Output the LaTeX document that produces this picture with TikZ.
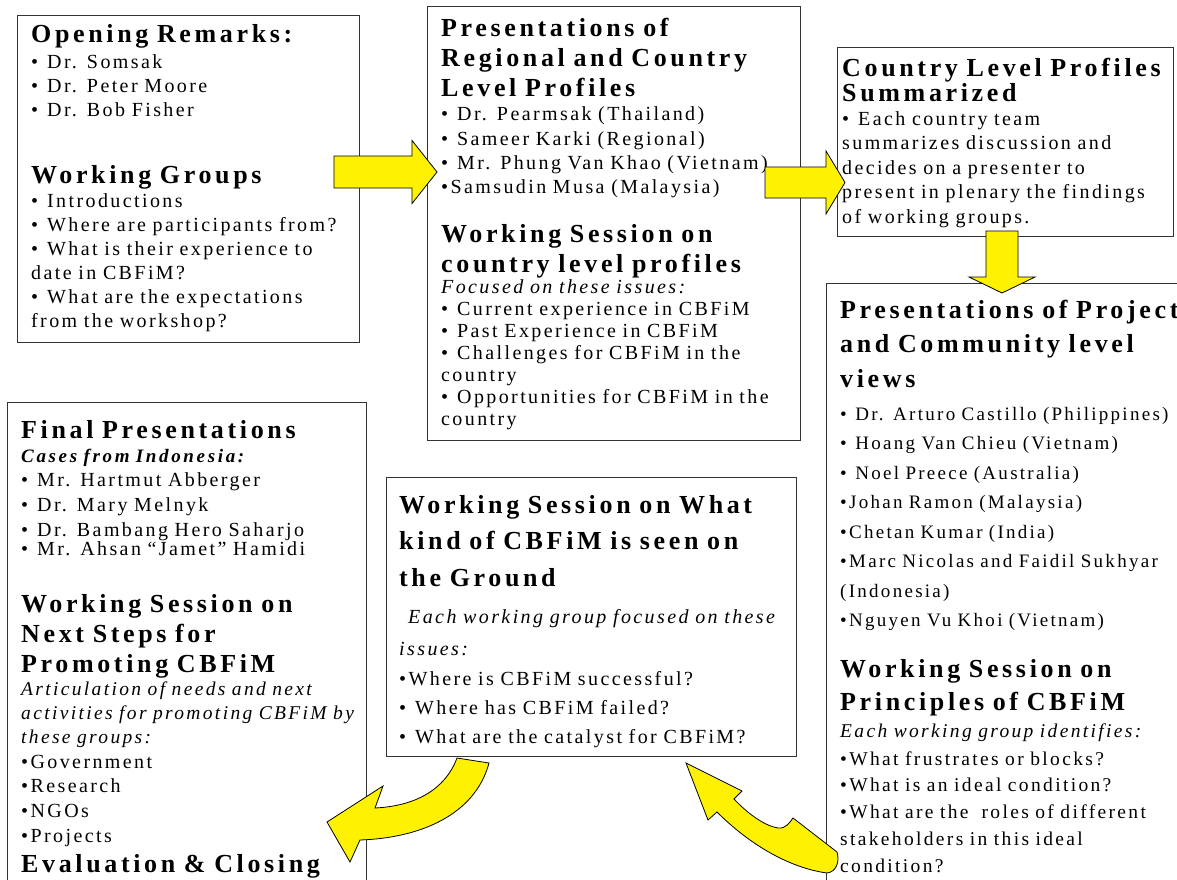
\documentclass[tikz,border=0pt]{standalone}
\usepackage{fontspec}
\setmainfont{Liberation Serif}[LetterSpace=12]
\newfontfamily\headfam{Liberation Serif}[LetterSpace=14]
\usepackage{tikz}
\newcommand{\fs}[2]{\fontsize{#1}{#2}\selectfont}
\newcommand{\bl}{•\hspace{0.45em}}

\begin{document}
\begin{tikzpicture}[x=1pt,y=-1pt,
  panel/.style={draw=black!80,line width=0.9pt,fill=white,anchor=north west,inner sep=0pt},
  txt/.style={anchor=base west,inner sep=0pt,align=left,text width=420pt},
  hd/.style 2 args={txt,font=\headfam\bfseries\fs{#1}{#2}},
  bd/.style 2 args={txt,font=\fs{#1}{#2}},
  itl/.style 2 args={txt,font=\itshape\fs{#1}{#2}},
  blockarr/.style={fill=yellow,draw=black,line width=0.8pt,line join=miter}
]
\useasboundingbox (0,0) rectangle (1177,880);
\fill[white] (0,0) rectangle (1177,880);
\clip (0,0) rectangle (1177,880);

% panels
\node[panel,minimum width=342pt,minimum height=327pt] (open) at (17,15) {};
\node[panel,minimum width=373pt,minimum height=434pt] (regional) at (427,6) {};
\node[panel,minimum width=336pt,minimum height=189pt] (summary) at (837,47) {};
\node[panel,minimum width=380pt,minimum height=640pt] (project) at (826,283) {};
\node[panel,minimum width=359pt,minimum height=500pt] (final) at (7,402) {};
\node[panel,minimum width=410pt,minimum height=279pt] (ground) at (386,477) {};

% opening remarks
\node[hd={26}{30}] (openT) at (31,43) {Opening Remarks:};
\node[bd={20}{24}] (openL) at (31,69) {\bl Dr. Somsak\\\bl Dr. Peter Moore\\\bl Dr. Bob Fisher};
\node[hd={26}{30}] (groupT) at (31,183) {Working Groups};
\node[bd={20}{24}] (groupL) at (31,207) {\bl Introductions\\\bl Where are participants from?\\\bl What is their experience to\\date in CBFiM?\\\bl What are the expectations\\from the workshop?};

% regional and country profiles
\node[hd={26}{30}] (regT) at (441,37) {Presentations of\\Regional and Country\\Level Profiles};
\node[bd={20}{24.3}] (regL) at (441,121) {\bl Dr. Pearmsak (Thailand)\\\bl Sameer Karki (Regional)\\\bl Mr. Phung Van Khao (Vietnam)\\•Samsudin Musa (Malaysia)};
\node[hd={26}{30}] (wsT) at (441,242) {Working Session on\\country level profiles};
\node[itl={20}{24}] (wsI) at (441,293) {Focused on these issues:};
\node[bd={20}{22}] (wsL) at (441,315) {\bl Current experience in CBFiM\\\bl Past Experience in CBFiM\\\bl Challenges for CBFiM in the\\country\\\bl Opportunities for CBFiM in the\\country};

% summary
\node[hd={26}{23}] (sumT) at (842,77) {Country Level Profiles\\Summarized};
\node[bd={20}{24.5}] (sumL) at (842,125) {\bl Each country team\\summarizes discussion and\\decides on a presenter to\\present in plenary the findings\\of working groups.};

% project and community views
\node[hd={26}{34.5}] (projT) at (840,318) {Presentations of Project\\and Community level\\views};
\node[bd={19}{29.5}] (projL) at (840,420) {\bl Dr. Arturo Castillo (Philippines)\\\bl Hoang Van Chieu (Vietnam)\\\bl Noel Preece (Australia)\\•Johan Ramon (Malaysia)\\•Chetan Kumar (India)\\•Marc Nicolas and Faidil Sukhyar\\(Indonesia)\\•Nguyen Vu Khoi (Vietnam)};
\node[hd={26}{33}] (prinT) at (840,677) {Working Session on\\Principles of CBFiM};
\node[itl={19.5}{24}] (prinI) at (840,737) {Each working group identifies:};
\node[bd={19.5}{26.75}] (prinL) at (840,765) {•What frustrates or blocks?\\•What is an ideal condition?\\•What are the\ \ roles of different\\stakeholders in this ideal\\condition?};

% final presentations
\node[hd={26}{30}] (finT) at (21,438) {Final Presentations};
\node[txt,font=\headfam\bfseries\itshape\fs{19}{24}] (finI) at (21,462) {Cases from Indonesia:};
\node[bd={20}{25}] (finL) at (21,486) {\bl Mr. Hartmut Abberger\\\bl Dr. Mary Melnyk\\\bl Dr. Bambang Hero Saharjo\\[-6pt]\bl Mr. Ahsan “Jamet” Hamidi};
\node[hd={26}{30}] (nextT) at (21,612) {Working Session on\\Next Steps for\\Promoting CBFiM};
\node[itl={19.5}{24}] (nextI) at (21,695) {Articulation of needs and next\\activities for promoting CBFiM by\\these groups:};
\node[bd={20}{24.7}] (nextL) at (21,768) {•Government\\•Research\\•NGOs\\•Projects};
\node[hd={26}{30}] (closeT) at (21,872) {Evaluation \& Closing};

% what is seen on the ground
\node[hd={26}{36.5}] (grT) at (399,513) {Working Session on What\\kind of CBFiM is seen on\\the Ground};
\node[itl={20}{32}] (grI) at (399,623) {\hspace*{9pt}Each working group focused on these\\issues:};
\node[bd={20}{29}] (grL) at (399,685) {•Where is CBFiM successful?\\\bl Where has CBFiM failed?\\\bl What are the catalyst for CBFiM?};

% block arrows
\coordinate (ar1) at (334,172);
\coordinate (ar2) at (765,182.5);
\coordinate (ar3) at (1002,231);
\draw[blockarr] (ar1) ++(0,-16) -- ++(78,0) -- ++(0,-15.5) -- ++(25,31.5) -- ++(-25,31.5) -- ++(0,-15.5) -- ++(-78,0) -- cycle;
\draw[blockarr] (ar2) ++(0,-15.5) -- ++(61,0) -- ++(0,-16) -- ++(19,31.5) -- ++(-19,31.5) -- ++(0,-16) -- ++(-61,0) -- cycle;
\draw[blockarr] (ar3) ++(-16,0) -- ++(0,46) -- ++(-17,0) -- ++(33,16) -- ++(33,-16) -- ++(-17,0) -- ++(0,-46) -- cycle;

% curved arrows
\draw[blockarr] (457,758) -- (489,763) .. controls (475,815) and (420,838) .. (360,840)
  -- (350,862) -- (327,822) -- (383,786) -- (375,808)
  .. controls (415,806) and (445,790) .. cycle;
\draw[blockarr] (686,763) -- (742,791) -- (734,799)
  .. controls (748,814) and (765,826) .. (778,828)
  .. controls (786,829) and (790,822) .. (793,818) -- (837,852)
  .. controls (840,862) and (836,872) .. (827,873)
  .. controls (790,868) and (750,845) .. (717,812) -- (708,820) -- cycle;
\end{tikzpicture}
\end{document}
